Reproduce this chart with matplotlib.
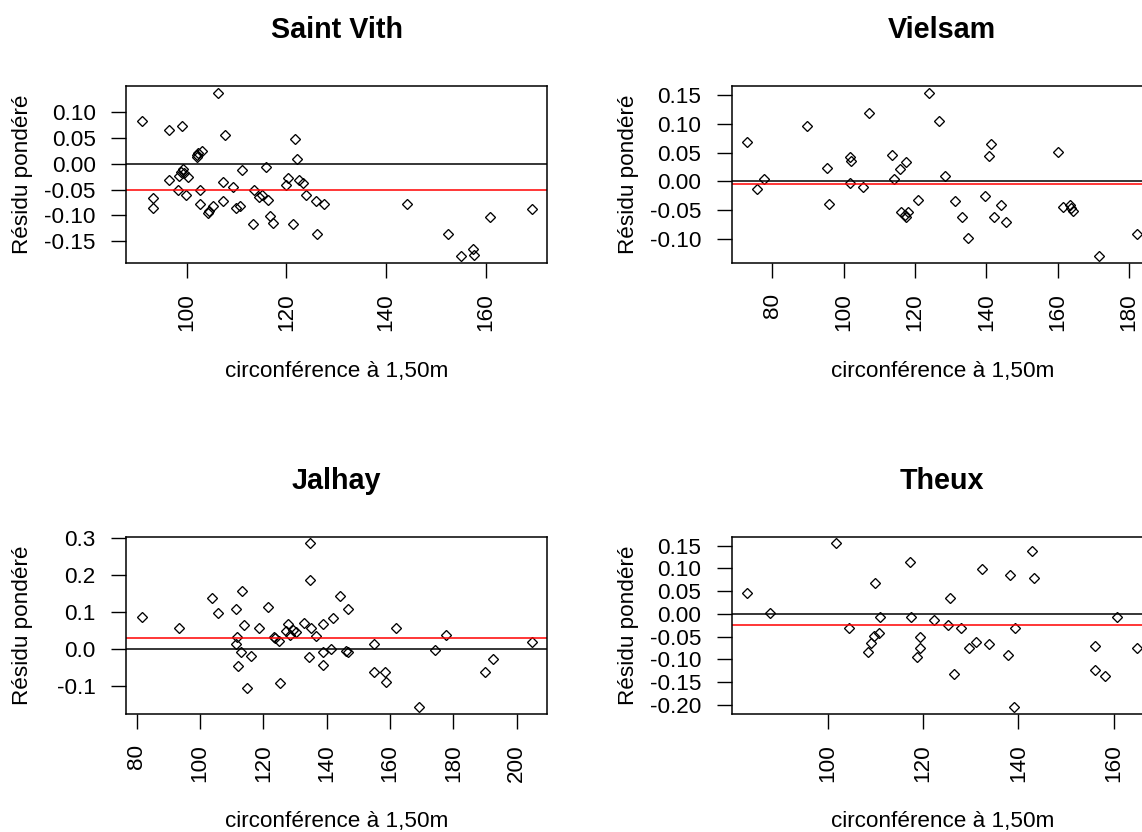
import matplotlib
matplotlib.use("Agg")
import matplotlib.pyplot as plt

plt.rcParams['font.family'] = ['Liberation Sans', 'DejaVu Sans']
plt.rcParams['axes.unicode_minus'] = False

# residus ponderes, par commune
sv_x = [90.9, 93.1, 93.1, 96.5, 99.0, 106.3, 107.7, 102.1, 102.3, 103.1, 102.1, 96.4, 98.3, 98.9,
        99.2, 99.5, 100.2, 98.5, 99.9, 102.7, 102.7, 104.3, 104.5, 105.3, 107.2, 107.3, 109.2, 109.9,
        110.6, 111.0, 113.3, 113.5, 114.5, 115.0, 116.2, 115.8, 116.6, 117.3, 119.9, 120.3, 121.3,
        121.7, 122.2, 122.6, 123.4, 123.9, 125.9, 126.1, 127.5, 144.2, 152.5, 155.0, 157.4, 157.7,
        160.9, 169.3]
sv_y = [0.083, -0.066, -0.085, 0.065, 0.073, 0.137, 0.055, 0.016, 0.020, 0.024, 0.012, -0.031,
        -0.051, -0.016, -0.011, -0.019, -0.025, -0.024, -0.060, -0.051, -0.078, -0.095, -0.092,
        -0.081, -0.036, -0.073, -0.045, -0.085, -0.081, -0.013, -0.116, -0.051, -0.064, -0.060,
        -0.070, -0.006, -0.101, -0.115, -0.041, -0.027, -0.116, 0.048, 0.008, -0.031, -0.038,
        -0.060, -0.073, -0.135, -0.078, -0.078, -0.135, -0.179, -0.165, -0.177, -0.102, -0.088]

vs_x = [73.0, 75.7, 77.7, 89.6, 95.3, 95.9, 101.7, 102.1, 101.7, 105.4, 107.0, 113.6, 114.2, 115.7,
        117.4, 116.1, 118.0, 117.4, 117.2, 120.9, 124.0, 126.6, 128.3, 131.3, 133.1, 134.9, 139.6,
        140.7, 141.4, 142.2, 144.1, 145.5, 160.0, 161.5, 163.5, 164.3, 163.7, 171.6, 182.3]
vs_y = [0.068, -0.013, 0.004, 0.097, 0.023, -0.039, 0.043, 0.036, -0.003, -0.010, 0.119, 0.046,
        0.004, 0.022, 0.033, -0.053, -0.053, -0.063, -0.059, -0.032, 0.155, 0.106, 0.010, -0.034,
        -0.063, -0.099, -0.026, 0.045, 0.065, -0.063, -0.042, -0.071, 0.052, -0.045, -0.041,
        -0.051, -0.046, -0.131, -0.092]

jh_x = [81.6, 93.3, 103.8, 105.7, 111.4, 111.6, 111.4, 112.0, 113.2, 113.9, 113.0, 114.9, 116.2,
        118.5, 121.4, 123.3, 123.7, 125.1, 125.2, 127.3, 127.9, 128.5, 129.3, 130.4, 132.9, 134.3,
        134.9, 134.9, 135.0, 136.7, 139.0, 138.9, 139.0, 141.4, 142.1, 144.3, 146.1, 146.6, 146.8,
        155.0, 155.0, 158.4, 158.9, 161.9, 169.1, 174.1, 177.7, 190.1, 192.5, 204.8]
jh_y = [0.087, 0.056, 0.137, 0.097, 0.106, 0.031, 0.012, -0.047, 0.157, 0.063, -0.009, -0.108,
        -0.019, 0.056, 0.112, 0.031, 0.030, 0.021, -0.092, 0.047, 0.067, 0.038, 0.051, 0.044, 0.069,
        -0.024, 0.286, 0.187, 0.056, 0.035, 0.067, -0.008, -0.044, -0.001, 0.082, 0.142, -0.006,
        -0.010, 0.107, 0.012, -0.063, -0.063, -0.090, 0.056, -0.158, -0.003, 0.037, -0.063,
        -0.028, 0.017]

th_x = [83.1, 87.8, 101.8, 104.5, 108.4, 109.1, 109.8, 110.8, 110.0, 111.0, 117.3, 117.5, 118.7,
        119.4, 119.4, 122.2, 125.2, 125.7, 126.6, 128.0, 129.6, 131.2, 132.4, 133.9, 137.9, 138.3,
        139.4, 139.0, 142.8, 143.2, 156.2, 156.2, 158.2, 160.8, 165.0]
th_y = [0.046, 0.001, 0.156, -0.031, -0.084, -0.064, -0.048, -0.042, 0.067, -0.007, 0.115, -0.007,
        -0.096, -0.075, -0.051, -0.014, -0.024, 0.034, -0.132, -0.031, -0.075, -0.062, 0.099,
        -0.067, -0.091, 0.086, -0.031, -0.205, 0.139, 0.079, -0.071, -0.124, -0.136, -0.007, -0.075]

titles = ["Saint Vith", "Vielsam", "Jalhay", "Theux"]
means = [-0.050, -0.004, 0.030, -0.025]
xticks = [[100, 120, 140, 160], [80, 100, 120, 140, 160, 180],
          [80, 100, 120, 140, 160, 180, 200], [100, 120, 140, 160]]
yticks = [[0.10, 0.05, 0.00, -0.05, -0.10, -0.15],
          [0.15, 0.10, 0.05, 0.00, -0.05, -0.10],
          [0.3, 0.2, 0.1, 0.0, -0.1],
          [0.15, 0.10, 0.05, 0.00, -0.05, -0.10, -0.15, -0.20]]
yfmt = ["%.2f", "%.2f", "%.1f", "%.2f"]
xs = [sv_x, vs_x, jh_x, th_x]
ys = [sv_y, vs_y, jh_y, th_y]

W, H = 1142, 832
fig = plt.figure(figsize=(W / 100, H / 100), dpi=100)

# boites en pixels (gauche, haut, droite, bas) ; la colonne de droite deborde de l'image
boxes = [(126, 86, 547.5, 263), (731.7, 86, 1153, 263),
         (126, 536.5, 547.5, 713.5), (731.7, 536.5, 1153, 713.5)]

for i in range(4):
    l, t, r, b = boxes[i]
    ax = fig.add_axes([l / W, 1 - b / H, (r - l) / W, (b - t) / H])
    ax.plot(xs[i], ys[i], linestyle='none', marker='D', markersize=5.3,
            markerfacecolor='none', markeredgecolor='black', markeredgewidth=0.95)
    ax.margins(x=0.04, y=0.04)
    ax.axhline(0, color='black', lw=1.1)
    ax.axhline(means[i], color='red', lw=1.1)
    ax.set_xticks(xticks[i])
    ax.set_xticklabels([str(v) for v in xticks[i]], rotation=90)
    ax.set_yticks(yticks[i])
    ax.set_yticklabels([yfmt[i] % v for v in yticks[i]])
    ax.tick_params(direction='out', length=10.8, width=1.0, labelsize=16.2, pad=11)
    for s in ax.spines.values():
        s.set_linewidth(1.1)
    cx = (l + r) / 2
    fig.text(cx / W, 1 - (t - 47.5) / H, titles[i], ha='center', va='baseline',
             fontsize=20.7, fontweight='bold')
    fig.text(cx / W, 1 - (b + 114) / H, "circonférence à 1,50m", ha='center',
             va='baseline', fontsize=16.2)
    fig.text((l - 103) / W, 1 - ((t + b) / 2) / H, "Résidu pondéré", ha='center',
             va='center', rotation=90, fontsize=16.2)

fig.savefig("out.png", dpi=100)
